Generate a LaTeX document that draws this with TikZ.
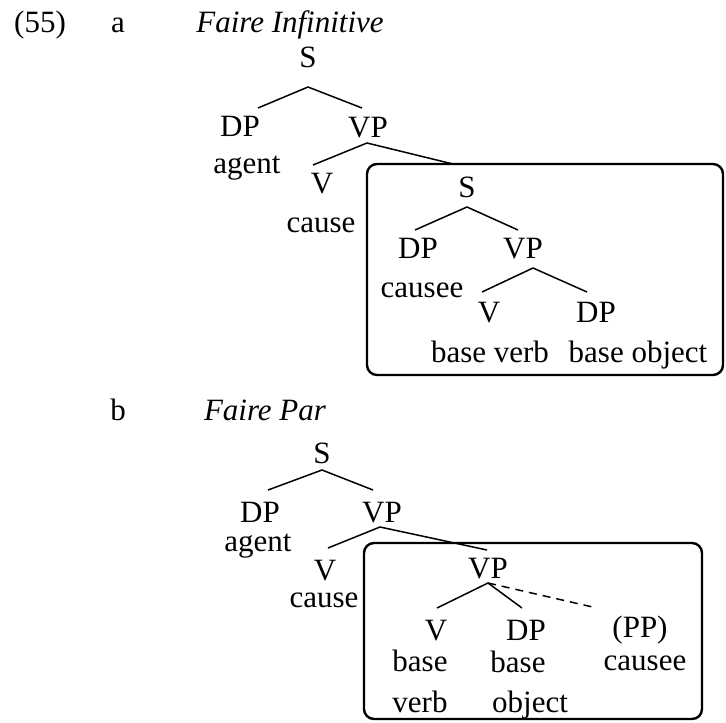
\documentclass[tikz,border=0pt]{standalone}
\usepackage{fontspec}
\setmainfont{Liberation Serif}
\begin{document}
\begin{tikzpicture}[x=0.5pt,y=-0.5pt,
  lbl/.style={anchor=base,inner sep=0pt,font=\fontsize{15.5}{18}\selectfont},
  ttl/.style={lbl,font=\fontsize{15.5}{18}\selectfont\itshape},
  branch/.style={line width=0.75pt},
  optbranch/.style={line width=0.75pt,dash pattern=on 4pt off 3pt},
  frame/.style={line width=1.2pt,rounded corners=5pt}]
\useasboundingbox (0,0) rectangle (726,722);

% ---------- (55a) Faire Infinitive ----------
\node[lbl] (num) at (40,33) {(55)};
\node[lbl] (la) at (118,33) {a};
\node[ttl] (ta) at (290,33) {Faire Infinitive};

\node[lbl] (aS) at (308,68) {S};
\node[lbl] (aDP) at (240,136) {DP};
\node[lbl] (aVP) at (368,137) {VP};
\node[lbl] (aAgent) at (247,173) {agent};
\node[lbl] (aV) at (322,193) {V};
\node[lbl] (aCause) at (321,232) {cause};

\draw[frame] (367,164) rectangle (723,375);

\node[lbl] (aS2) at (467,197) {S};
\node[lbl] (aDP2) at (418,258) {DP};
\node[lbl] (aVP2) at (523,258) {VP};
\node[lbl] (aCausee) at (422,297) {causee};
\node[lbl] (aV2) at (489,322) {V};
\node[lbl] (aDP3) at (596,322) {DP};
\node[lbl] (aBV) at (490,362) {base verb};
\node[lbl] (aBO) at (638,362) {base object};

\coordinate (aS-f) at (308,87);
\coordinate (aDP-h) at (258,108);
\coordinate (aVP-h) at (362,108);
\coordinate (aVP-f) at (367,143);
\coordinate (aV-h) at (313,165);
\coordinate (aBox-h) at (453,164);
\coordinate (aS2-f) at (467,207);
\coordinate (aDP2-h) at (415,230);
\coordinate (aVP2-h) at (518,230);
\coordinate (aVP2-f) at (533,268);
\coordinate (aV2-h) at (482,292);
\coordinate (aDP3-h) at (587,292);

\draw[branch] (aDP-h) -- (aS-f) -- (aVP-h);
\draw[branch] (aV-h) -- (aVP-f) -- (aBox-h);
\draw[branch] (aDP2-h) -- (aS2-f) -- (aVP2-h);
\draw[branch] (aV2-h) -- (aVP2-f) -- (aDP3-h);

% ---------- (55b) Faire Par ----------
\node[lbl] (lb) at (118,420) {b};
\node[ttl] (tb) at (265,420) {Faire Par};

\node[lbl] (bS) at (322,463) {S};
\node[lbl] (bDP) at (260,522) {DP};
\node[lbl] (bVP) at (382,522) {VP};
\node[lbl] (bAgent) at (258,551) {agent};
\node[lbl] (bV) at (325,580) {V};
\node[lbl] (bCause) at (324,607) {cause};

\draw[frame] (364,543) rectangle (702,719);

\node[lbl] (bVP2) at (488,578) {VP};
\node[lbl] (bV2) at (436,640) {V};
\node[lbl] (bDP2) at (526,640) {DP};
\node[lbl] (bPP) at (640,637) {(PP)};
\node[lbl] (bBase1) at (420,671) {base};
\node[lbl] (bBase2) at (518,672) {base};
\node[lbl] (bCausee) at (645,670) {causee};
\node[lbl] (bVerb) at (420,712) {verb};
\node[lbl] (bObject) at (530,712) {object};

\coordinate (bS-f) at (322,470);
\coordinate (bDP-h) at (268,490);
\coordinate (bVP-h) at (373,490);
\coordinate (bVP-f) at (380,527);
\coordinate (bV-h) at (328,548);
\coordinate (bVP2-h) at (487,550);
\coordinate (bVP2-f) at (488,583);
\coordinate (bV2-h) at (437,608);
\coordinate (bDP2-h) at (522,608);
\coordinate (bPP-h) at (597,608);

\draw[branch] (bDP-h) -- (bS-f) -- (bVP-h);
\draw[branch] (bV-h) -- (bVP-f) -- (bVP2-h);
\draw[branch] (bV2-h) -- (bVP2-f) -- (bDP2-h);
\draw[optbranch] (bVP2-f) -- (bPP-h);
\end{tikzpicture}
\end{document}
